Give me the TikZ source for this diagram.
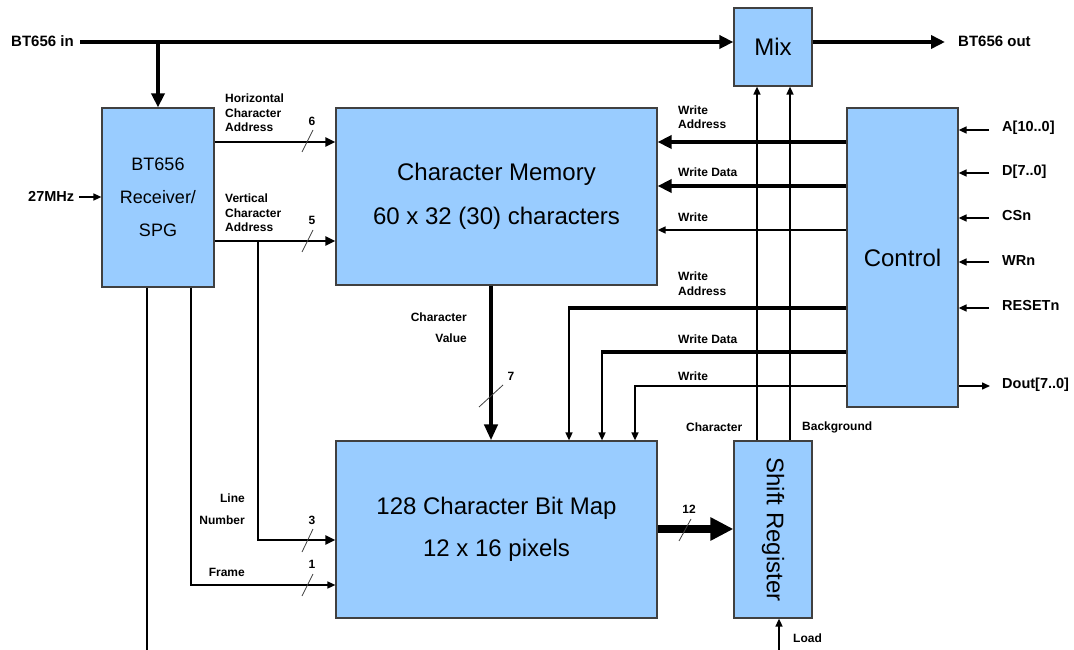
\documentclass[tikz,border=0pt]{standalone}
\usepackage{fontspec}
\setmainfont{Liberation Sans}
\usetikzlibrary{arrows.meta,calc}
\definecolor{boxblue}{HTML}{99CCFF}
\definecolor{edge}{HTML}{404040}
\tikzset{
  blk/.style={draw=edge, fill=boxblue, line width=1.2pt, inner sep=0pt, align=center},
  bigtxt/.style={font=\fontsize{24}{44}\selectfont},
  lab/.style={font=\bfseries\fontsize{12}{14.5}\selectfont, inner sep=0pt},
  iolab/.style={font=\bfseries\fontsize{14.5}{16}\selectfont, inner sep=0pt},
  wire/.style={line width=1.5pt, -{Triangle[length=8pt,width=7pt]}},
  plain/.style={line width=1.5pt},
  addr/.style={line width=2.5pt, -{Triangle[length=10pt,width=9pt]}},
  bus/.style={line width=4.5pt, -{Triangle[length=14pt,width=13pt]}},
  thickline/.style={line width=4.5pt},
  fatbus/.style={line width=8pt, -{Triangle[length=23pt,width=22pt]}},
  slash/.style={draw=black!75, line width=0.8pt}
}
\begin{document}
\begin{tikzpicture}[x=1pt,y=-1pt]
\useasboundingbox (0,0) rectangle (1074,650);
% boxes
\node[blk, minimum width=78pt, minimum height=78pt, font=\fontsize{24}{26}\selectfont] (mix) at (773,47) {Mix};
\node[blk, minimum width=112pt, minimum height=179pt, font=\fontsize{18}{33}\selectfont] (rx) at (158,197.5) {BT656\\Receiver/\\SPG};
\node[blk, bigtxt, minimum width=321pt, minimum height=177pt] (cm) at (496.5,196.5) {Character Memory\\60 x 32 (30) characters};
\node[blk, minimum width=111pt, minimum height=299pt, font=\fontsize{24}{26}\selectfont] (ctl) at (902.5,257.5) {Control};
\node[blk, font=\fontsize{24}{42}\selectfont, minimum width=321pt, minimum height=177pt] (bm) at (496.5,529.5) {128 Character Bit Map\\12 x 16 pixels};
\node[blk, minimum width=78pt, minimum height=177pt] (sr) at (773,529.5) {};
\node[font=\fontsize{24}{26}\selectfont, rotate=-90, inner sep=0pt] (srt) at (sr.center) {Shift Register};

% BT656 in / out
\node[iolab, anchor=west, font=\bfseries\fontsize{15}{16}\selectfont] (bin) at (11,41) {BT656 in};
\node[iolab, anchor=west, font=\bfseries\fontsize{15}{16}\selectfont] (bout) at (958,41) {BT656 out};
\coordinate (inS) at (80,42);
\coordinate (outE) at (945,42);
\draw[bus] (inS) -- (inS -| mix.west);
\draw[bus] (inS -| mix.east) -- (outE);
\draw[bus] (inS -| rx.north) -- (rx.north);

% 27MHz
\node[iolab, anchor=west] (p27) at (28,196) {27MHz};
\draw[wire] ([xshift=5pt]p27.east |- 0,197) -- (rx.west |- 0,197);

% address lines from receiver
\draw[addr] (rx.east |- 0,142) -- (cm.west |- 0,142);
\draw[addr] (rx.east |- 0,241) -- (cm.west |- 0,241);
\node[lab, anchor=west, align=left] (lh) at (225,113) {Horizontal\\Character\\Address};
\node[lab, anchor=west, align=left] (lv) at (225,213) {Vertical\\Character\\Address};
\node[lab] (n6) at (312,121) {6};
\node[lab] (n5) at (312,220) {5};
\draw[slash] (302,152) -- (313,130);
\draw[slash] (302,252) -- (313,230);

% line number branch
\coordinate (vj) at (258,241);
\draw[addr] (vj) |- (bm.west |- 0,540);
\node[lab, anchor=east, align=right, font=\bfseries\fontsize{12}{22}\selectfont] (lln) at (245,509) {Line\\Number};
\node[lab] (n3) at (312,520) {3};
\draw[slash] (302,552) -- (313,529);

% frame
\draw[wire] (rx.south -| 191,0) |- (bm.west |- 0,585);
\node[lab, anchor=east] (lfr) at (245,572) {Frame};
\node[lab] (n1) at (312,564) {1};
\draw[slash] (302,596) -- (313,574);

% receiver output to bottom
\coordinate (bot) at (147,650);
\draw[plain] (rx.south -| bot) -- (bot);

% character value
\draw[bus, -{Triangle[length=16pt,width=13pt]}] (cm.south -| 491,0) -- (bm.north -| 491,0);
\node[lab, anchor=east, align=right, font=\bfseries\fontsize{12}{21}\selectfont] (lcv) at (467,327.5) {Character\\Value};
\node[lab] (n7) at (511,376) {7};
\draw[slash] (479,407) -- (503,385);

% control to char memory
\draw[bus] (ctl.west |- 0,142) -- (cm.east |- 0,142);
\draw[bus] (ctl.west |- 0,186) -- (cm.east |- 0,186);
\draw[wire] (ctl.west |- 0,230) -- (cm.east |- 0,230);
\node[lab, anchor=west, align=left] (lwa1) at (678,117) {Write\\Address};
\node[lab, anchor=west] (lwd1) at (678,172) {Write Data};
\node[lab, anchor=west] (lw1) at (678,217) {Write};

% control to bit map
\coordinate (ca) at (569,308);
\coordinate (cd) at (602,352);
\coordinate (cw) at (635,386);
\draw[thickline] (ctl.west |- ca) -- ([xshift=-0.75pt]ca);
\draw[wire] ([yshift=-2pt]ca) -- (bm.north -| ca);
\draw[thickline] (ctl.west |- cd) -- ([xshift=-0.75pt]cd);
\draw[wire] ([yshift=-2pt]cd) -- (bm.north -| cd);
\draw[wire] (ctl.west |- cw) -| (bm.north -| cw);
\node[lab, anchor=west, align=left] (lwa2) at (678,283.5) {Write\\Address};
\node[lab, anchor=west] (lwd2) at (678,339) {Write Data};
\node[lab, anchor=west] (lw2) at (678,376) {Write};

% bit map to shift register
\draw[fatbus] (bm.east |- 0,529) -- (sr.west |- 0,529);
\node[lab] (n12) at (689,509) {12};
\draw[slash] (679,541) -- (691,519);

% shift register to mix
\draw[wire] (sr.north -| 757,0) -- (mix.south -| 757,0);
\draw[wire] (sr.north -| 790,0) -- (mix.south -| 790,0);
\node[lab, anchor=west] (lch) at (686,427) {Character};
\node[lab, anchor=west] (lbg) at (802,427) {Background};

% load
\coordinate (ld) at (779,650);
\draw[wire] (ld) -- (sr.south -| ld);
\node[lab, anchor=west] (lld) at (793,638) {Load};

% control inputs
\node[iolab, anchor=west] (pa) at (1002,128) {A[10..0]};
\node[iolab, anchor=west] (pdd) at (1002,172) {D[7..0]};
\node[iolab, anchor=west] (pcs) at (1002,216) {CSn};
\node[iolab, anchor=west] (pwr) at (1002,261) {WRn};
\node[iolab, anchor=west] (prs) at (1002,306) {RESETn};
\node[iolab, anchor=west] (pdo) at (1002,385) {Dout[7..0]};
\draw[wire] (989,130) -- (ctl.east |- 0,130);
\draw[wire] (989,173) -- (ctl.east |- 0,173);
\draw[wire] (989,218) -- (ctl.east |- 0,218);
\draw[wire] (989,262) -- (ctl.east |- 0,262);
\draw[wire] (989,308) -- (ctl.east |- 0,308);
\draw[wire] (ctl.east |- 0,386) -- (990,386);
\end{tikzpicture}
\end{document}
